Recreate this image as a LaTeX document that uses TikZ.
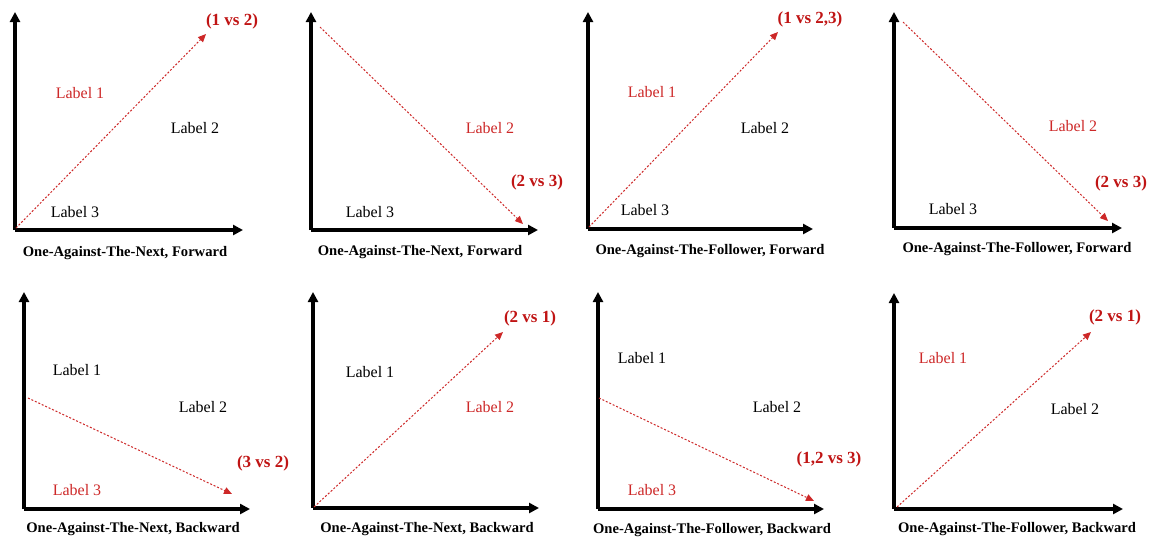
\documentclass[tikz,border=0pt]{standalone}
\usepackage{fontspec}
\setmainfont{Liberation Serif}
\usetikzlibrary{arrows.meta}
\definecolor{darkred}{RGB}{192,20,20}
\definecolor{lblred}{RGB}{205,40,40}
\tikzset{
  axisline/.style={line width=3.2pt, -{Triangle[length=10pt,width=10pt]}},
  split/.style={lblred, line width=1pt, dash pattern=on 2pt off 1.8pt, -{Triangle[length=8pt,width=7pt]}},
  lbl/.style={font=\fontsize{16}{16}\selectfont, inner sep=0pt},
  redlbl/.style={lbl, text=lblred},
  vs/.style={font=\fontsize{17}{17}\selectfont\bfseries, text=darkred, inner sep=0pt},
  captext/.style={font=\fontsize{14.6}{14.6}\selectfont\bfseries, inner sep=0pt},
}
\begin{document}
\begin{tikzpicture}[x=1pt,y=-1pt]
\useasboundingbox (0,0) rectangle (1149,539);
% Panel 1
\coordinate (o1) at (15,230); \coordinate (y1) at (15,12); \coordinate (x1) at (243,230);
\draw[axisline] (o1) -- (y1); \draw[axisline] (o1) -- (x1);
\coordinate (s1) at (16,228); \coordinate (e1) at (206,34);
\draw[split] (s1) -- (e1);
\node[vs] (v1) at (232,21) {(1 vs 2)};
\node[redlbl] (a1) at (80,93) {Label 1};
\node[lbl] (b1) at (195,128) {Label 2};
\node[lbl] (c1) at (75,212) {Label 3};
\node[captext] (t1) at (125,253) {One-Against-The-Next, Forward};
% Panel 2
\coordinate (o2) at (311,230); \coordinate (y2) at (311,12); \coordinate (x2) at (538,230);
\draw[axisline] (o2) -- (y2); \draw[axisline] (o2) -- (x2);
\coordinate (s2) at (320,27); \coordinate (e2) at (523,224);
\draw[split] (s2) -- (e2);
\node[vs] (v2) at (537,182) {(2 vs 3)};
\node[redlbl] (a2) at (490,128) {Label 2};
\node[lbl] (c2) at (370,212) {Label 3};
\node[captext] (t2) at (420,252) {One-Against-The-Next, Forward};
% Panel 3
\coordinate (o3) at (588,229); \coordinate (y3) at (588,12); \coordinate (x3) at (813,229);
\draw[axisline] (o3) -- (y3); \draw[axisline] (o3) -- (x3);
\coordinate (s3) at (589,227); \coordinate (e3) at (778,32);
\draw[split] (s3) -- (e3);
\node[vs] (v3) at (810,19) {(1 vs 2,3)};
\node[redlbl] (a3) at (652,92) {Label 1};
\node[lbl] (b3) at (765,128) {Label 2};
\node[lbl] (c3) at (645,210) {Label 3};
\node[captext] (t3) at (710,251) {One-Against-The-Follower, Forward};
% Panel 4
\coordinate (o4) at (894,228); \coordinate (y4) at (894,12); \coordinate (x4) at (1122,228);
\draw[axisline] (o4) -- (y4); \draw[axisline] (o4) -- (x4);
\coordinate (s4) at (903,22); \coordinate (e4) at (1108,221);
\draw[split] (s4) -- (e4);
\node[vs] (v4) at (1121,183) {(2 vs 3)};
\node[redlbl] (a4) at (1073,126) {Label 2};
\node[lbl] (c4) at (953,209) {Label 3};
\node[captext] (t4) at (1017,249) {One-Against-The-Follower, Forward};
% Panel 5
\coordinate (o5) at (24,509); \coordinate (y5) at (24,292); \coordinate (x5) at (250,509);
\draw[axisline] (o5) -- (y5); \draw[axisline] (o5) -- (x5);
\coordinate (s5) at (28,398); \coordinate (e5) at (232,494);
\draw[split] (s5) -- (e5);
\node[vs] (v5) at (263,463) {(3 vs 2)};
\node[lbl] (a5) at (77,370) {Label 1};
\node[lbl] (b5) at (203,407) {Label 2};
\node[redlbl] (c5) at (77,490) {Label 3};
\node[captext] (t5) at (133,529) {One-Against-The-Next, Backward};
% Panel 6
\coordinate (o6) at (313,508); \coordinate (y6) at (313,292); \coordinate (x6) at (539,508);
\draw[axisline] (o6) -- (y6); \draw[axisline] (o6) -- (x6);
\coordinate (s6) at (314,507); \coordinate (e6) at (503,332);
\draw[split] (s6) -- (e6);
\node[vs] (v6) at (530,318) {(2 vs 1)};
\node[lbl] (a6) at (370,372) {Label 1};
\node[redlbl] (b6) at (490,407) {Label 2};
\node[captext] (t6) at (427,529) {One-Against-The-Next, Backward};
% Panel 7
\coordinate (o7) at (598,509); \coordinate (y7) at (598,292); \coordinate (x7) at (824,509);
\draw[axisline] (o7) -- (y7); \draw[axisline] (o7) -- (x7);
\coordinate (s7) at (599,398); \coordinate (e7) at (814,501);
\draw[split] (s7) -- (e7);
\node[vs] (v7) at (829,459) {(1,2 vs 3)};
\node[lbl] (a7) at (642,358) {Label 1};
\node[lbl] (b7) at (777,407) {Label 2};
\node[redlbl] (c7) at (652,490) {Label 3};
\node[captext] (t7) at (712,530) {One-Against-The-Follower, Backward};
% Panel 8
\coordinate (o8) at (894,509); \coordinate (y8) at (894,293); \coordinate (x8) at (1123,509);
\draw[axisline] (o8) -- (y8); \draw[axisline] (o8) -- (x8);
\coordinate (s8) at (897,507); \coordinate (e8) at (1091,332);
\draw[split] (s8) -- (e8);
\node[vs] (v8) at (1115,317) {(2 vs 1)};
\node[redlbl] (a8) at (943,358) {Label 1};
\node[lbl] (b8) at (1075,409) {Label 2};
\node[captext] (t8) at (1017,529) {One-Against-The-Follower, Backward};
\end{tikzpicture}
\end{document}
